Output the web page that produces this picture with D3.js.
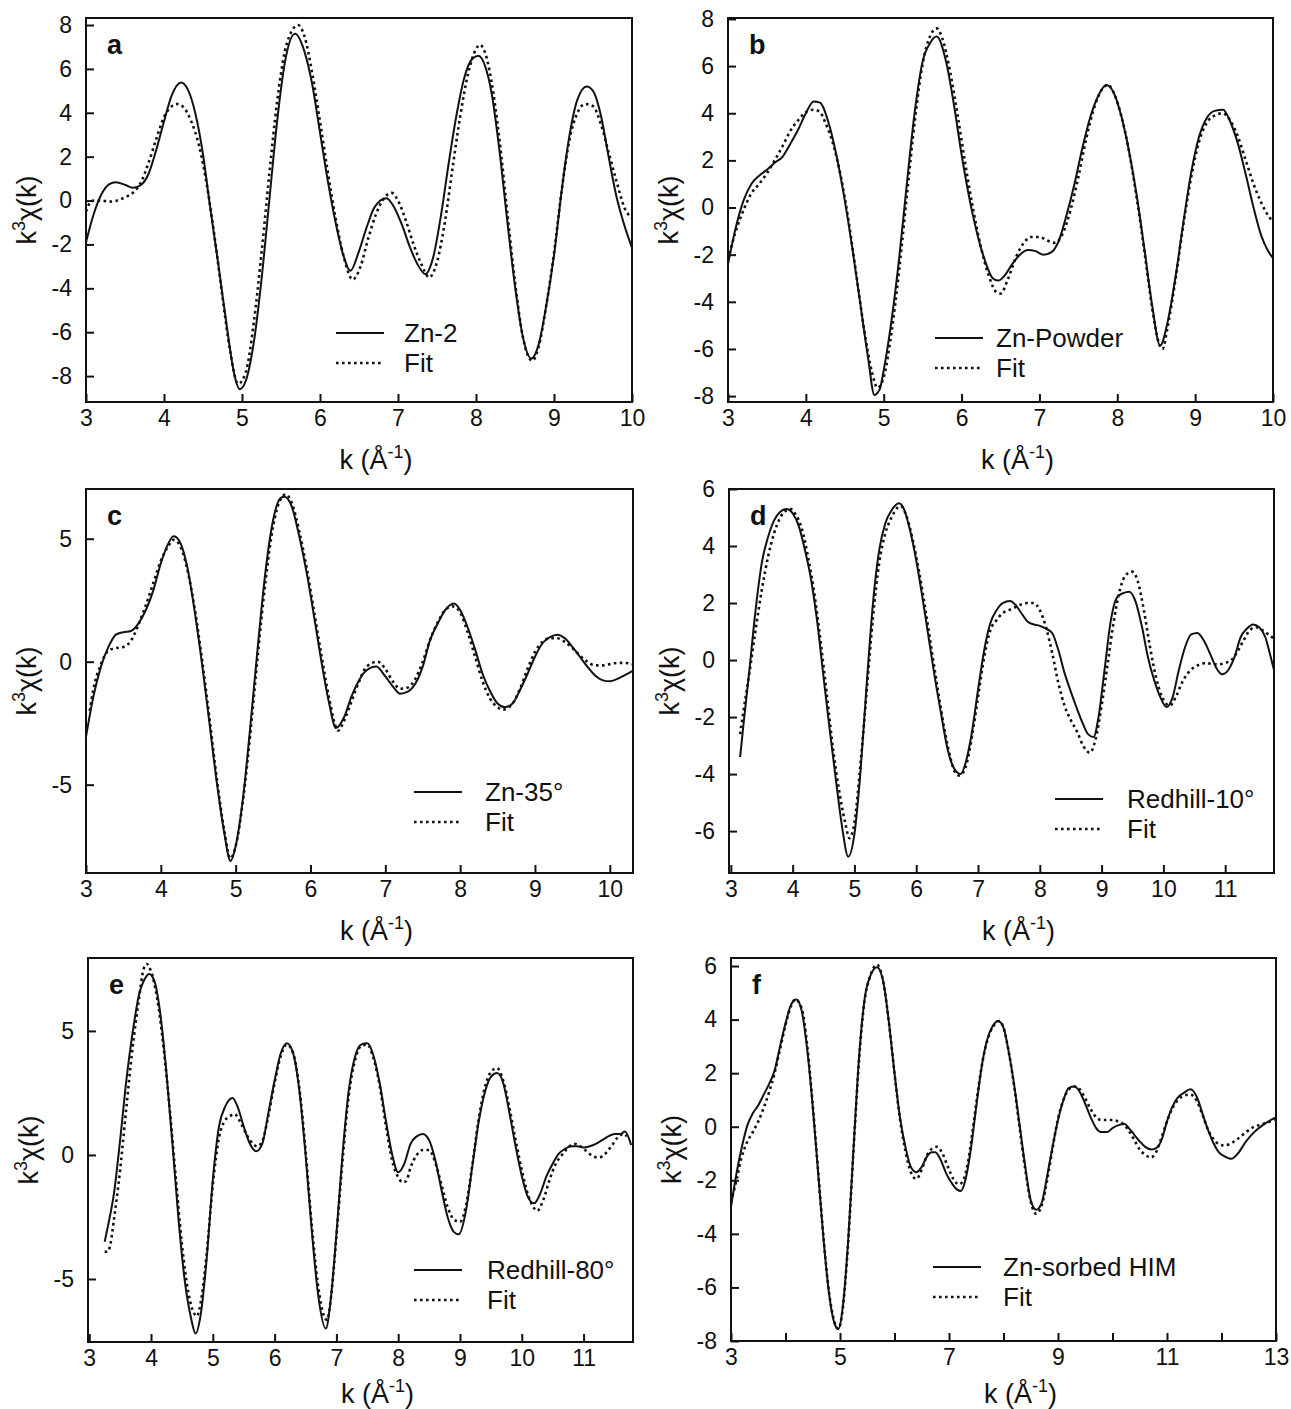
<!DOCTYPE html>
<meta charset="utf-8">
<style>
body{margin:0;background:#fff;}
text{font-family:"Liberation Sans",Arial,sans-serif;fill:#111;}
.frame{fill:none;stroke:#111;stroke-width:2px;}
.tick line{stroke:#111;stroke-width:2px;}
.data{fill:none;stroke:#111;stroke-width:2px;stroke-linejoin:round;}
.fit{fill:none;stroke:#111;stroke-width:2.6px;stroke-dasharray:2.6,3.4;}
</style>
<body>
<script src="https://d3js.org/d3.v7.min.js"></script>
<script>

// panel a
var zn2=[[3.0,-1.9],[3.1,-0.6],[3.2,0.3],[3.3,0.75],[3.38,0.83],[3.5,0.72],[3.6,0.58],[3.7,0.7],[3.8,1.2],[3.9,2.3],[4.0,3.6],[4.1,4.8],[4.22,5.38],[4.3,5.1],[4.4,4.0],[4.5,2.1],[4.58,0],[4.7,-3.0],[4.8,-5.6],[4.9,-7.9],[4.97,-8.6],[5.05,-8.2],[5.15,-6.5],[5.25,-3.6],[5.35,0],[5.45,3.6],[5.55,6.3],[5.68,7.6],[5.8,6.8],[5.9,5.3],[6.0,3.1],[6.1,0.9],[6.2,-1.0],[6.3,-2.5],[6.39,-3.2],[6.5,-2.3],[6.6,-1.2],[6.7,-0.3],[6.85,0.1],[6.95,-0.3],[7.05,-1.1],[7.15,-2.1],[7.25,-2.9],[7.35,-3.35],[7.45,-2.6],[7.55,-0.7],[7.65,1.7],[7.75,3.9],[7.85,5.6],[7.95,6.45],[8.03,6.6],[8.12,6.1],[8.2,4.9],[8.3,2.3],[8.4,-0.9],[8.5,-3.9],[8.6,-6.2],[8.71,-7.2],[8.8,-6.6],[8.9,-4.8],[9.0,-2.5],[9.1,0.5],[9.2,3.0],[9.3,4.6],[9.42,5.2],[9.5,5.0],[9.6,3.9],[9.7,2.0],[9.8,0.2],[9.9,-1.1],[10.0,-2.15]];
var fitA=[[3.0,-0.5],[3.05,-0.1],[3.1,0.0],[3.2,0.0],[3.3,-0.05],[3.4,0.0],[3.5,0.15],[3.6,0.35],[3.7,0.8],[3.8,1.7],[3.9,2.8],[4.0,3.8],[4.1,4.3],[4.17,4.4],[4.25,4.25],[4.35,3.6],[4.45,2.5],[4.55,0.7],[4.65,-1.7],[4.75,-4.4],[4.85,-6.9],[4.95,-8.35],[5.05,-7.8],[5.15,-5.6],[5.25,-2.4],[5.35,1.2],[5.45,4.5],[5.55,6.8],[5.65,7.8],[5.72,8.0],[5.8,7.5],[5.9,5.8],[6.0,3.6],[6.1,1.3],[6.2,-0.8],[6.3,-2.5],[6.42,-3.6],[6.52,-3.0],[6.62,-1.7],[6.72,-0.6],[6.8,0.0],[6.92,0.35],[7.0,0.0],[7.1,-0.9],[7.2,-2.0],[7.3,-2.9],[7.4,-3.5],[7.5,-2.8],[7.6,-1.0],[7.7,1.5],[7.8,3.9],[7.9,5.8],[8.0,6.9],[8.05,7.1],[8.12,6.7],[8.2,5.4],[8.3,2.8],[8.4,-0.5],[8.5,-3.7],[8.6,-6.2],[8.72,-7.3],[8.8,-6.7],[8.9,-4.8],[9.0,-2.4],[9.1,0.5],[9.2,2.8],[9.3,4.0],[9.4,4.4],[9.5,4.3],[9.6,3.5],[9.7,2.2],[9.8,0.9],[9.9,-0.3],[10.0,-0.8]];

// panel b
var znPowder=[[3.0,-2.4],[3.1,-0.85],[3.2,0.3],[3.3,1.0],[3.4,1.35],[3.5,1.6],[3.6,1.9],[3.7,2.15],[3.8,2.7],[3.9,3.3],[4.0,4.0],[4.1,4.5],[4.18,4.45],[4.3,3.5],[4.4,2.1],[4.5,0.3],[4.6,-1.8],[4.7,-4.1],[4.8,-6.4],[4.88,-7.95],[4.95,-7.7],[5.0,-6.9],[5.1,-4.8],[5.2,-2.1],[5.3,1.1],[5.4,4.1],[5.5,6.2],[5.6,7.0],[5.68,7.25],[5.8,6.2],[5.9,4.4],[6.0,2.25],[6.1,0.4],[6.2,-1.1],[6.3,-2.25],[6.4,-3.0],[6.47,-3.1],[6.55,-2.9],[6.65,-2.4],[6.75,-2.0],[6.85,-1.8],[6.95,-1.85],[7.05,-2.0],[7.15,-1.9],[7.25,-1.4],[7.35,-0.3],[7.45,1.0],[7.55,2.5],[7.65,3.8],[7.75,4.7],[7.86,5.2],[7.95,4.9],[8.05,3.9],[8.15,2.4],[8.25,0.5],[8.35,-1.8],[8.45,-4.2],[8.55,-5.85],[8.65,-4.8],[8.75,-2.9],[8.85,-0.6],[8.95,1.5],[9.05,3.0],[9.15,3.8],[9.25,4.1],[9.36,4.15],[9.45,3.65],[9.55,2.7],[9.65,1.4],[9.75,0.0],[9.85,-1.2],[9.93,-1.8],[10.0,-2.15]];
var fitB=[[3.0,-2.2],[3.1,-1.0],[3.2,-0.1],[3.3,0.6],[3.4,1.0],[3.5,1.45],[3.6,2.0],[3.7,2.6],[3.8,3.25],[3.9,3.7],[4.0,4.05],[4.1,4.15],[4.18,4.05],[4.25,3.6],[4.35,2.7],[4.45,1.3],[4.55,-0.6],[4.65,-2.9],[4.75,-5.2],[4.85,-7.0],[4.92,-7.65],[5.0,-7.2],[5.1,-5.3],[5.2,-2.6],[5.3,0.6],[5.4,3.7],[5.5,6.1],[5.6,7.3],[5.68,7.6],[5.75,7.2],[5.85,5.8],[5.95,3.9],[6.05,1.8],[6.15,-0.1],[6.25,-1.7],[6.35,-2.9],[6.45,-3.6],[6.5,-3.65],[6.6,-3.0],[6.7,-2.1],[6.8,-1.5],[6.9,-1.25],[7.0,-1.25],[7.1,-1.4],[7.2,-1.5],[7.3,-1.1],[7.4,-0.1],[7.5,1.3],[7.6,2.9],[7.7,4.2],[7.8,5.0],[7.88,5.2],[7.95,4.9],[8.05,3.9],[8.15,2.4],[8.25,0.4],[8.35,-1.9],[8.45,-4.3],[8.53,-5.7],[8.58,-6.0],[8.65,-5.0],[8.75,-3.0],[8.85,-0.7],[8.95,1.3],[9.05,2.8],[9.15,3.6],[9.25,3.9],[9.35,4.0],[9.45,3.7],[9.55,3.0],[9.65,2.0],[9.75,1.0],[9.85,0.2],[9.95,-0.4],[10.0,-0.6]];

// panel c
var zn35=[[3.0,-3.05],[3.1,-1.4],[3.2,-0.2],[3.3,0.6],[3.4,1.1],[3.5,1.2],[3.6,1.25],[3.7,1.55],[3.8,2.1],[3.9,2.9],[4.0,4.0],[4.1,4.8],[4.17,5.1],[4.25,4.9],[4.35,3.9],[4.45,2.1],[4.55,-0.07],[4.65,-2.5],[4.75,-4.95],[4.85,-7.0],[4.93,-8.1],[5.0,-7.5],[5.1,-5.5],[5.2,-2.5],[5.3,0.75],[5.4,3.7],[5.5,5.75],[5.6,6.65],[5.65,6.7],[5.75,6.3],[5.85,5.1],[5.95,3.6],[6.05,1.8],[6.15,-0.07],[6.25,-1.7],[6.34,-2.7],[6.45,-2.25],[6.55,-1.4],[6.65,-0.75],[6.75,-0.35],[6.88,-0.2],[7.0,-0.6],[7.1,-1.0],[7.2,-1.3],[7.3,-1.22],[7.4,-0.9],[7.5,-0.2],[7.6,0.9],[7.7,1.55],[7.8,2.1],[7.92,2.37],[8.0,2.1],[8.1,1.4],[8.2,0.5],[8.3,-0.5],[8.4,-1.2],[8.5,-1.7],[8.6,-1.85],[8.7,-1.7],[8.8,-1.15],[8.9,-0.5],[9.0,0.2],[9.1,0.75],[9.2,1.0],[9.3,1.1],[9.4,0.95],[9.5,0.6],[9.6,0.2],[9.7,-0.2],[9.8,-0.55],[9.9,-0.75],[10.0,-0.8],[10.1,-0.7],[10.2,-0.55],[10.3,-0.38]];
var fitC=[[3.05,-2.0],[3.1,-1.1],[3.2,-0.1],[3.3,0.45],[3.4,0.55],[3.5,0.6],[3.6,0.85],[3.7,1.5],[3.8,2.3],[3.9,3.2],[4.0,4.1],[4.1,4.7],[4.17,4.95],[4.25,4.75],[4.35,3.8],[4.45,2.2],[4.55,0.1],[4.65,-2.3],[4.75,-4.8],[4.85,-6.9],[4.93,-8.0],[5.0,-7.5],[5.1,-5.6],[5.2,-2.8],[5.3,0.4],[5.4,3.3],[5.5,5.5],[5.6,6.6],[5.67,6.8],[5.75,6.45],[5.85,5.3],[5.95,3.8],[6.05,2.0],[6.15,0.2],[6.25,-1.5],[6.37,-2.8],[6.45,-2.4],[6.55,-1.6],[6.65,-0.8],[6.75,-0.2],[6.9,0.0],[7.0,-0.3],[7.1,-0.8],[7.2,-1.1],[7.3,-1.05],[7.4,-0.7],[7.5,0.0],[7.6,0.9],[7.7,1.6],[7.8,2.1],[7.9,2.25],[8.0,2.0],[8.1,1.2],[8.2,0.2],[8.3,-0.8],[8.4,-1.5],[8.5,-1.85],[8.57,-1.95],[8.7,-1.7],[8.8,-1.1],[8.9,-0.3],[9.0,0.4],[9.1,0.8],[9.2,0.95],[9.3,0.95],[9.4,0.8],[9.5,0.55],[9.6,0.25],[9.7,0.0],[9.8,-0.15],[9.9,-0.15],[10.0,-0.1],[10.1,-0.05],[10.2,-0.05],[10.3,-0.1]];

// panel d
var redhill10=[[3.15,-3.4],[3.2,-2.35],[3.3,-0.35],[3.4,1.75],[3.5,3.4],[3.6,4.3],[3.7,4.9],[3.8,5.2],[3.9,5.3],[4.0,5.15],[4.1,4.7],[4.2,3.85],[4.3,2.8],[4.4,1.3],[4.5,-0.6],[4.6,-2.45],[4.7,-4.2],[4.8,-5.85],[4.9,-6.9],[5.0,-6.1],[5.1,-3.85],[5.2,-0.8],[5.3,2.0],[5.4,3.85],[5.5,4.8],[5.6,5.25],[5.72,5.5],[5.8,5.3],[5.9,4.55],[6.0,3.5],[6.1,2.2],[6.2,0.8],[6.3,-0.6],[6.4,-1.85],[6.5,-3.05],[6.6,-3.75],[6.72,-4.0],[6.8,-3.6],[6.9,-2.55],[7.0,-1.05],[7.1,0.35],[7.2,1.3],[7.3,1.75],[7.4,2.0],[7.52,2.07],[7.6,1.95],[7.7,1.65],[7.8,1.35],[7.9,1.25],[8.0,1.2],[8.1,1.1],[8.2,0.95],[8.3,0.35],[8.4,-0.45],[8.5,-1.1],[8.6,-1.7],[8.7,-2.25],[8.78,-2.6],[8.87,-2.7],[8.95,-2.0],[9.05,-0.3],[9.15,1.4],[9.25,2.2],[9.35,2.35],[9.45,2.4],[9.55,2.05],[9.65,1.2],[9.75,0.1],[9.85,-0.7],[9.95,-1.3],[10.05,-1.65],[10.15,-1.3],[10.25,-0.35],[10.35,0.45],[10.45,0.9],[10.55,0.95],[10.65,0.7],[10.75,0.25],[10.85,-0.25],[10.95,-0.5],[11.05,-0.35],[11.15,0.1],[11.25,0.8],[11.35,1.1],[11.45,1.25],[11.55,1.15],[11.65,0.8],[11.72,0.25],[11.79,-0.35]];
var fitD=[[3.15,-2.6],[3.2,-1.85],[3.3,-0.45],[3.4,1.05],[3.5,2.45],[3.6,3.6],[3.7,4.45],[3.8,5.0],[3.9,5.25],[3.97,5.3],[4.05,5.1],[4.15,4.6],[4.25,3.6],[4.35,2.35],[4.45,0.7],[4.55,-1.15],[4.65,-3.05],[4.75,-4.55],[4.85,-5.7],[4.92,-6.25],[5.0,-5.7],[5.1,-3.6],[5.2,-1.05],[5.3,1.5],[5.4,3.4],[5.5,4.45],[5.6,5.0],[5.7,5.35],[5.75,5.4],[5.85,5.0],[5.95,4.15],[6.05,3.05],[6.15,1.75],[6.25,0.35],[6.35,-1.05],[6.45,-2.35],[6.55,-3.4],[6.62,-3.9],[6.7,-4.05],[6.8,-3.75],[6.9,-2.7],[7.0,-1.3],[7.1,0.1],[7.2,1.05],[7.3,1.4],[7.4,1.65],[7.5,1.75],[7.6,1.85],[7.7,1.95],[7.8,2.0],[7.9,2.0],[8.0,1.75],[8.1,1.15],[8.2,0.25],[8.3,-0.8],[8.4,-1.6],[8.5,-2.1],[8.6,-2.5],[8.7,-3.0],[8.81,-3.25],[8.9,-2.8],[9.0,-1.6],[9.1,-0.1],[9.2,1.4],[9.3,2.5],[9.4,3.0],[9.49,3.1],[9.58,2.8],[9.68,1.8],[9.78,0.5],[9.88,-0.6],[9.98,-1.3],[10.1,-1.6],[10.2,-1.3],[10.3,-0.8],[10.4,-0.45],[10.5,-0.25],[10.6,-0.15],[10.7,-0.1],[10.8,-0.15],[10.9,-0.15],[11.0,-0.1],[11.1,0.0],[11.2,0.3],[11.3,0.7],[11.4,1.05],[11.5,1.15],[11.6,1.05],[11.7,0.9],[11.79,0.75]];

// panel e
var redhill80=[[3.25,-3.5],[3.3,-2.9],[3.4,-1.55],[3.5,0.6],[3.6,3.0],[3.7,4.9],[3.8,6.4],[3.9,7.1],[3.97,7.3],[4.05,7.05],[4.15,5.7],[4.25,3.3],[4.35,0.35],[4.45,-2.75],[4.55,-5.15],[4.65,-6.6],[4.72,-7.2],[4.8,-6.5],[4.9,-4.2],[5.0,-1.0],[5.1,1.15],[5.2,1.95],[5.32,2.3],[5.4,1.95],[5.5,1.15],[5.6,0.45],[5.7,0.15],[5.8,0.45],[5.9,1.7],[6.0,3.0],[6.1,4.1],[6.2,4.5],[6.3,4.1],[6.4,2.6],[6.5,0.05],[6.6,-3.0],[6.7,-5.55],[6.83,-7.0],[6.9,-6.0],[7.0,-3.2],[7.1,0.05],[7.2,2.6],[7.3,3.95],[7.4,4.45],[7.5,4.5],[7.6,4.0],[7.7,2.9],[7.8,1.4],[7.9,0.05],[8.0,-0.7],[8.1,-0.35],[8.2,0.45],[8.3,0.75],[8.4,0.85],[8.5,0.6],[8.6,-0.2],[8.7,-1.4],[8.8,-2.5],[8.9,-3.1],[8.98,-3.2],[9.1,-2.2],[9.2,-0.45],[9.3,1.3],[9.4,2.5],[9.5,3.15],[9.6,3.3],[9.7,2.9],[9.8,1.7],[9.9,0.35],[10.0,-0.85],[10.1,-1.7],[10.2,-1.95],[10.3,-1.55],[10.4,-0.85],[10.5,-0.35],[10.6,0.05],[10.7,0.25],[10.8,0.35],[10.9,0.35],[11.0,0.3],[11.1,0.35],[11.2,0.45],[11.3,0.6],[11.4,0.75],[11.5,0.85],[11.6,0.85],[11.67,0.95],[11.77,0.4]];
var fitE=[[3.25,-3.9],[3.3,-3.9],[3.35,-3.5],[3.4,-2.6],[3.5,-0.6],[3.6,1.9],[3.7,4.3],[3.8,6.2],[3.88,7.5],[3.93,7.7],[4.0,7.4],[4.1,6.3],[4.2,4.4],[4.3,1.9],[4.4,-0.9],[4.5,-3.6],[4.6,-5.5],[4.7,-6.4],[4.74,-6.5],[4.8,-6.0],[4.9,-4.0],[5.0,-1.2],[5.1,0.7],[5.2,1.4],[5.3,1.6],[5.35,1.65],[5.45,1.3],[5.55,0.8],[5.65,0.45],[5.72,0.35],[5.8,0.55],[5.9,1.6],[6.0,2.9],[6.1,4.0],[6.2,4.45],[6.3,4.1],[6.4,2.7],[6.5,0.2],[6.6,-2.8],[6.7,-5.2],[6.8,-6.5],[6.85,-6.65],[6.9,-6.0],[7.0,-3.3],[7.1,-0.2],[7.2,2.4],[7.3,3.8],[7.4,4.4],[7.5,4.45],[7.6,3.9],[7.7,2.8],[7.8,1.2],[7.9,-0.2],[8.0,-0.9],[8.07,-1.1],[8.13,-1.05],[8.2,-0.5],[8.3,0.0],[8.4,0.2],[8.5,0.2],[8.6,-0.3],[8.7,-1.2],[8.8,-2.1],[8.9,-2.6],[9.0,-2.7],[9.1,-2.0],[9.2,-0.4],[9.3,1.4],[9.4,2.7],[9.5,3.35],[9.6,3.5],[9.7,3.0],[9.8,1.9],[9.9,0.6],[10.0,-0.6],[10.1,-1.6],[10.2,-2.15],[10.25,-2.25],[10.35,-1.8],[10.45,-1.0],[10.55,-0.35],[10.65,0.0],[10.75,0.3],[10.85,0.45],[10.95,0.35],[11.05,0.15],[11.15,-0.05],[11.25,-0.1],[11.35,0.05],[11.45,0.35],[11.55,0.7],[11.65,0.85],[11.7,0.75]];

// panel f
var znHIM=[[3.0,-3.0],[3.1,-1.75],[3.2,-0.75],[3.3,0.05],[3.4,0.5],[3.5,0.8],[3.6,1.2],[3.7,1.6],[3.8,2.1],[3.9,3.0],[4.0,3.85],[4.1,4.55],[4.2,4.75],[4.3,4.3],[4.4,2.85],[4.5,0.75],[4.6,-1.75],[4.7,-4.25],[4.8,-6.25],[4.9,-7.35],[4.97,-7.55],[5.05,-6.75],[5.15,-4.25],[5.25,-0.75],[5.35,2.6],[5.45,4.75],[5.55,5.6],[5.68,5.95],[5.8,5.35],[5.9,3.85],[6.0,2.0],[6.1,0.35],[6.2,-0.75],[6.3,-1.5],[6.4,-1.7],[6.5,-1.5],[6.6,-1.1],[6.68,-0.95],[6.75,-0.95],[6.85,-1.25],[6.95,-1.75],[7.05,-2.1],[7.15,-2.35],[7.22,-2.4],[7.3,-2.0],[7.4,-0.85],[7.5,0.75],[7.6,2.25],[7.7,3.25],[7.8,3.75],[7.9,3.95],[8.0,3.7],[8.1,2.75],[8.2,1.5],[8.3,0.0],[8.4,-1.5],[8.5,-2.75],[8.6,-3.1],[8.7,-2.85],[8.8,-1.85],[8.9,-0.75],[9.0,0.25],[9.1,1.0],[9.2,1.45],[9.3,1.5],[9.4,1.3],[9.5,0.85],[9.6,0.35],[9.7,-0.05],[9.8,-0.2],[9.9,-0.2],[10.0,-0.05],[10.1,0.05],[10.22,0.1],[10.3,-0.05],[10.4,-0.3],[10.5,-0.55],[10.6,-0.75],[10.72,-0.85],[10.8,-0.8],[10.9,-0.5],[11.0,0.2],[11.1,0.75],[11.2,1.1],[11.3,1.25],[11.43,1.4],[11.55,1.1],[11.65,0.5],[11.75,-0.1],[11.85,-0.6],[11.95,-0.95],[12.05,-1.1],[12.18,-1.2],[12.3,-1.0],[12.45,-0.55],[12.6,-0.2],[12.75,0.05],[12.9,0.25],[13.0,0.35]];
var fitF=[[3.0,-2.8],[3.1,-2.0],[3.2,-1.1],[3.3,-0.55],[3.4,-0.2],[3.5,0.2],[3.6,0.7],[3.7,1.3],[3.8,2.0],[3.9,2.9],[4.0,3.8],[4.1,4.5],[4.18,4.75],[4.3,4.4],[4.4,3.0],[4.5,0.8],[4.6,-1.7],[4.7,-4.2],[4.8,-6.2],[4.9,-7.3],[4.97,-7.55],[5.05,-6.8],[5.15,-4.3],[5.25,-0.8],[5.35,2.5],[5.45,4.7],[5.55,5.6],[5.68,6.05],[5.8,5.35],[5.9,3.85],[6.0,2.0],[6.1,0.3],[6.2,-0.9],[6.3,-1.7],[6.4,-1.95],[6.5,-1.6],[6.6,-1.05],[6.7,-0.8],[6.78,-0.75],[6.88,-1.0],[6.98,-1.5],[7.08,-1.95],[7.18,-2.15],[7.25,-2.05],[7.35,-1.3],[7.45,0.1],[7.55,1.6],[7.65,2.8],[7.75,3.5],[7.85,3.85],[7.92,3.95],[8.0,3.7],[8.1,2.75],[8.2,1.45],[8.3,-0.1],[8.4,-1.6],[8.5,-2.8],[8.6,-3.25],[8.7,-2.95],[8.8,-2.0],[8.9,-0.8],[9.0,0.3],[9.1,1.0],[9.2,1.4],[9.3,1.5],[9.4,1.4],[9.5,1.05],[9.6,0.65],[9.7,0.35],[9.8,0.25],[9.9,0.25],[10.0,0.25],[10.1,0.2],[10.2,0.1],[10.3,-0.15],[10.4,-0.5],[10.5,-0.85],[10.6,-1.05],[10.7,-1.15],[10.8,-0.95],[10.9,-0.4],[11.0,0.2],[11.1,0.7],[11.2,1.0],[11.3,1.15],[11.43,1.2],[11.55,0.95],[11.65,0.45],[11.75,-0.1],[11.85,-0.45],[11.95,-0.65],[12.05,-0.7],[12.15,-0.65],[12.3,-0.45],[12.45,-0.2],[12.6,0.0],[12.75,0.1],[12.9,0.2],[13.0,0.3]];

var letters=["a","b","c","d","e","f"];
var sampleNames=["Zn-2","Zn-Powder","Zn-35°","Redhill-10°","Redhill-80°","Zn-sorbed HIM"];
var xDomains=[[3,10],[3,10],[3,10.31],[2.97,11.79],[2.98,11.8],[3,13]];
var yDomains=[[-9.18,8.32],[-8.25,8.04],[-8.59,7.02],[-7.47,6.0],[-7.54,7.94],[-8,6.3]];
var xTicks=[d3.range(3,11),d3.range(3,11),d3.range(3,11),d3.range(3,12),d3.range(3,12),d3.range(3,14)];
var yTicks=[d3.range(-8,9,2),d3.range(-8,9,2),[-5,0,5],d3.range(-6,7,2),[-5,0,5],d3.range(-8,7,2)];
var dataSets=[zn2,znPowder,zn35,redhill10,redhill80,znHIM];
var fitSets=[fitA,fitB,fitC,fitD,fitE,fitF];

// frame boxes [left,top,right,bottom] and legend offsets
var boxes=[[86,18,632,402],[728,18,1273,402],[86,489,633,873],[729,489,1274,873],[88,958,633,1342],[731,958,1276,1341]];
var legendPos=[[250,315,68],[207,320,61],[328,303,71],[326,310,72],[326,312,73],[202,309,70]];

var svg=d3.select("body").append("svg").attr("width",1291).attr("height",1409);
var fmt=function(d){ return String(d); };

dataSets.forEach(function(dat,i){
  var b=boxes[i];
  var x=d3.scaleLinear().domain(xDomains[i]).range([b[0],b[2]]);
  var y=d3.scaleLinear().domain(yDomains[i]).range([b[3],b[1]]);
  var g=svg.append("g");

  var xa=d3.axisBottom(x).tickValues(xTicks[i]).tickSizeInner(-8).tickSizeOuter(0).tickPadding(8)
    .tickFormat(function(d){ return (i==5 && d%2==0) ? "" : fmt(d); });
  var gx=g.append("g").attr("transform","translate(0,"+b[3]+")").call(xa);
  var ya=d3.axisLeft(y).tickValues(yTicks[i]).tickSizeInner(-8).tickSizeOuter(0).tickPadding(14).tickFormat(fmt);
  var gy=g.append("g").attr("transform","translate("+b[0]+",0)").call(ya);
  [gx,gy].forEach(function(a){
    a.select(".domain").remove();
    a.selectAll("text").style("font-size","23px").attr("fill","#111");
  });

  g.append("rect").attr("class","frame")
    .attr("x",b[0]).attr("y",b[1]).attr("width",b[2]-b[0]).attr("height",b[3]-b[1]);

  var line=d3.line().x(d=>x(d[0])).y(d=>y(d[1])).curve(d3.curveMonotoneX);
  g.append("path").attr("class","fit").attr("d",line(fitSets[i]));
  g.append("path").attr("class","data").attr("d",line(dat));

  g.append("text").attr("x",b[0]+21).attr("y",b[1]+36)
    .style("font-size","27px").style("font-weight","bold").text(letters[i]);

  // axis titles
  var yt=g.append("text").attr("text-anchor","middle").style("font-size","27px")
    .attr("transform","translate("+(b[0]-50)+","+((b[1]+b[3])/2)+") rotate(-90)");
  yt.append("tspan").text("k");
  yt.append("tspan").attr("dy","-11").style("font-size","18px").text("3");
  yt.append("tspan").attr("dy","11").text("\u03c7(k)");

  var xt=g.append("text").attr("text-anchor","middle").style("font-size","27px")
    .attr("x",(b[0]+b[2])/2+17).attr("y",Math.min(b[3]+67,1403));
  xt.append("tspan").text("k (\u00c5");
  xt.append("tspan").attr("dy","-11").style("font-size","18px").text("-1");
  xt.append("tspan").attr("dy","11").text(")");

  // legend
  var lp=legendPos[i], lx=b[0]+lp[0];
  [[lp[1],"data",sampleNames[i]],[lp[1]+30,"fit","Fit"]].forEach(function(r){
    g.append("line").attr("class",r[1]).attr("x1",lx).attr("x2",lx+48)
      .attr("y1",b[1]+r[0]).attr("y2",b[1]+r[0]);
    g.append("text").attr("x",lx+lp[2]).attr("y",b[1]+r[0]+9)
      .style("font-size","26px").text(r[2]);
  });
});

</script>
</body>
